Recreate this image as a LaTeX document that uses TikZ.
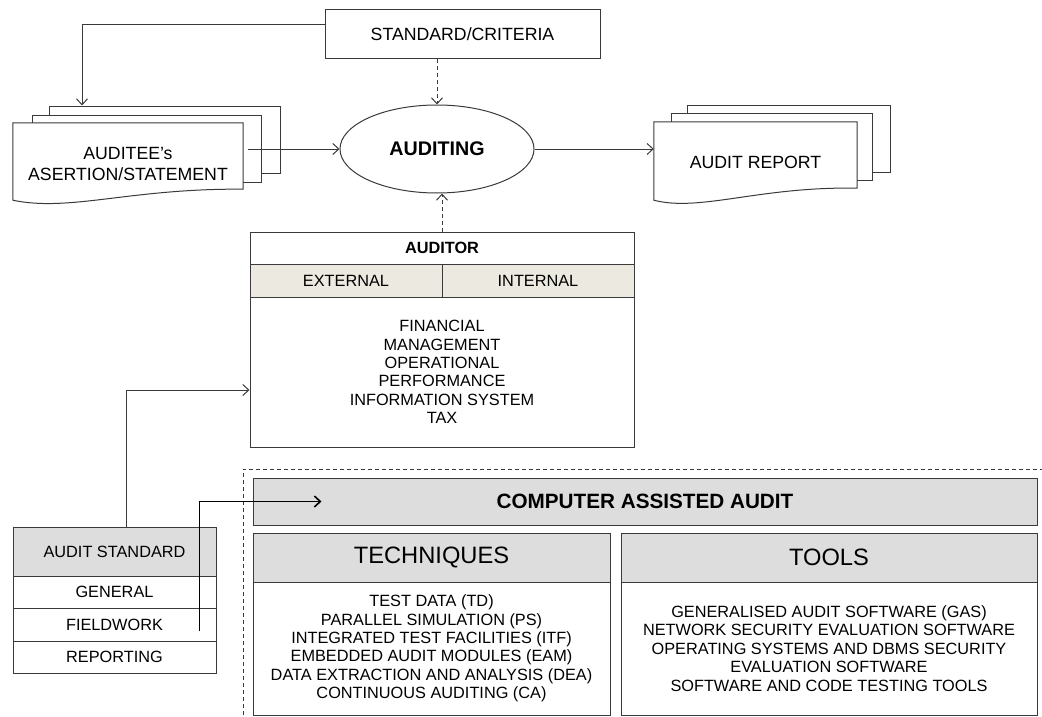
\documentclass[tikz,border=0pt]{standalone}
\usepackage{fontspec}
\setmainfont{Liberation Sans}
\usetikzlibrary{shapes.geometric,arrows.meta}

\definecolor{hdgray}{HTML}{DDDDDD}
\definecolor{beige}{HTML}{ECE9E0}
\definecolor{linegray}{HTML}{3A3A3A}

\newcommand{\bodyfont}{\fontsize{16.3}{18.4}\selectfont}
\newcommand{\docfont}{\fontsize{17.7}{21.5}\selectfont}
\newcommand{\headfont}{\fontsize{23.7}{27}\selectfont}

\tikzset{
  >={Straight Barb[length=6pt,width=11pt]},
  box/.style={draw=linegray, line width=1pt, fill=white, inner sep=0pt, align=center, font=\bodyfont},
  sheet/.style={draw=linegray, line width=1pt, fill=white, inner sep=0pt},
  doc/.style={draw=linegray, line width=1pt, fill=white},
  link/.style={->, draw=linegray, line width=1pt},
  dashlink/.style={->, draw=linegray, line width=1pt, dash pattern=on 4pt off 3pt},
  frame/.style={draw=linegray, line width=0.8pt, dash pattern=on 4pt off 3pt}
}

\begin{document}
\begin{tikzpicture}[x=1pt, y=-1pt]
  \useasboundingbox (0,0) rectangle (1042,717);

  % top row
  \node[box, minimum width=275, minimum height=49, font=\docfont] (criteria) at (462.5,34.5) {STANDARD/CRITERIA};
  \node[ellipse, draw=linegray, line width=1pt, fill=white, inner sep=0pt, minimum width=194, minimum height=88,
        font=\bfseries\fontsize{19.7}{22}\selectfont] (auditing) at (437,149) {AUDITING};

  % auditee documents
  \node[sheet, minimum width=231, minimum height=67] (auditeeC) at (164.5,139.5) {};
  \node[sheet, minimum width=229, minimum height=67] (auditeeB) at (146.5,148.5) {};
  \node[inner sep=0pt, minimum width=230, minimum height=77] (auditee) at (128,161.5) {};
  \draw[doc] (auditee.north west) -- (auditee.north east) -- ([yshift=11pt]auditee.south east)
    .. controls +(-113,-1) and +(57,12) .. (auditee.south west) -- cycle;
  \node[align=center, font=\docfont] (auditeetxt) at (128,164) {AUDITEE’s\\ASERTION/STATEMENT};

  % report documents
  \node[sheet, minimum width=203, minimum height=67] (reportC) at (788.5,138.5) {};
  \node[sheet, minimum width=201, minimum height=67] (reportB) at (771.5,146.5) {};
  \node[inner sep=0pt, minimum width=203, minimum height=78] (report) at (755.5,161) {};
  \draw[doc] (report.north west) -- (report.north east) -- ([yshift=12pt]report.south east)
    .. controls +(-97,-2) and +(46,12) .. (report.south west) -- cycle;
  \node[font=\docfont] (reporttxt) at (755.5,162) {AUDIT REPORT};

  % auditor
  \node[box, minimum width=384, minimum height=32, font=\bfseries\bodyfont] (auditor) at (442,248) {AUDITOR};
  \node[box, fill=beige, minimum width=192, minimum height=33] (external) at (346,280.5) {EXTERNAL};
  \node[box, fill=beige, minimum width=192, minimum height=33] (internal) at (538,280.5) {INTERNAL};
  \node[box, minimum width=384, minimum height=150] (auditlist) at (442,372)
    {FINANCIAL\\MANAGEMENT\\OPERATIONAL\\PERFORMANCE\\INFORMATION SYSTEM\\TAX};

  % audit standard
  \node[box, fill=hdgray, minimum width=203, minimum height=49] (stdhead) at (114.5,551.5) {AUDIT STANDARD};
  \node[box, minimum width=203, minimum height=32] (general) at (114.5,592) {GENERAL};
  \node[box, minimum width=203, minimum height=33] (fieldwork) at (114.5,624.5) {FIELDWORK};
  \node[box, minimum width=203, minimum height=32] (reporting) at (114.5,657) {REPORTING};

  % computer assisted audit
  \draw[frame] (243,722) -- (243,469) -- (1048,469);
  \node[box, fill=hdgray, minimum width=784, minimum height=47, font=\bfseries\fontsize{20.7}{24}\selectfont] (caa) at (645,501.5) {COMPUTER ASSISTED AUDIT};
  \node[box, fill=hdgray, minimum width=357, minimum height=49, font=\headfont] (techniques) at (431.5,557.5) {TECHNIQUES};
  \node[box, minimum width=357, minimum height=133] (techlist) at (431.5,648.5)
    {TEST DATA (TD)\\PARALLEL SIMULATION (PS)\\INTEGRATED TEST FACILITIES (ITF)\\EMBEDDED AUDIT MODULES (EAM)\\DATA EXTRACTION AND ANALYSIS (DEA)\\CONTINUOUS AUDITING (CA)};
  \node[box, fill=hdgray, minimum width=416, minimum height=49, font=\headfont] (tools) at (829,557.5) {TOOLS};
  \node[box, minimum width=416, minimum height=133] (toollist) at (829,648.5)
    {GENERALISED AUDIT SOFTWARE (GAS)\\NETWORK SECURITY EVALUATION SOFTWARE\\OPERATING SYSTEMS AND DBMS SECURITY\\EVALUATION SOFTWARE\\SOFTWARE AND CODE TESTING TOOLS};

  % connectors
  \draw[link] ([yshift=9.5pt]criteria.west) -| ([xshift=-82.5pt]auditeeC.north);
  \draw[dashlink] (criteria.south -| auditing.north) -- (auditing.north);
  \draw[link] ([xshift=5pt]auditee.east |- auditing.west) -- (auditing.west);
  \draw[link] (auditing.east) -- (auditing.east -| report.west);
  \draw[dashlink] (auditor.north) -- (auditor.north |- auditing.south);
  \draw[link] ([xshift=11.5pt]stdhead.north) |- ([yshift=-18pt]auditlist.west);
  \draw[link, draw=black, line width=1.6pt] ([xshift=-17pt,yshift=-6.5pt]fieldwork.east) |- ([xshift=69pt]caa.west);
\end{tikzpicture}
\end{document}
